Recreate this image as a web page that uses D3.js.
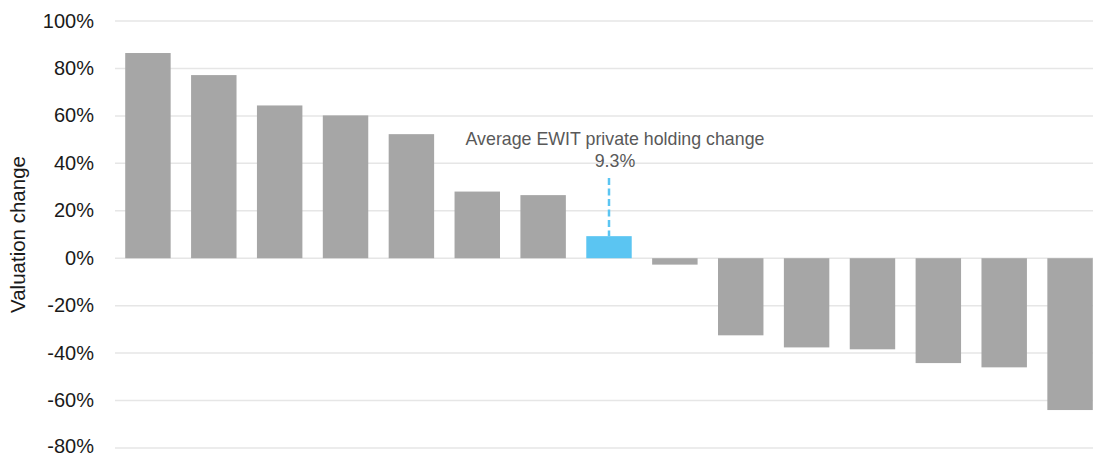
<!DOCTYPE html>
<html>
<head>
<meta charset="utf-8">
<script src="https://cdn.jsdelivr.net/npm/d3@7"></script>
<style>
  body { margin: 0; background: #fff; }
  svg { display: block; font-family: "Liberation Sans", Arial, sans-serif; }
</style>
</head>
<body>
<div id="chart"></div>
<script>
// data
var holdings = ["H1","H2","H3","H4","H5","H6","H7","EWIT","H9","H10","H11","H12","H13","H14","H15"];
var changes = [86.5, 77.2, 64.4, 60.2, 52.3, 28.1, 26.6, 9.3, -2.7, -32.5, -37.6, -38.4, -44.2, -46.0, -64.0];
var yTicks = [-80, -60, -40, -20, 0, 20, 40, 60, 80, 100];
var avgLabel = ["Average EWIT private holding change", "9.3%"];
var avgIndex = 7;

var width = 1093, height = 456;
var svg = d3.select("#chart").append("svg")
    .attr("width", width)
    .attr("height", height);

var x = d3.scaleBand()
    .domain(holdings)
    .range([115, 1103])
    .paddingInner(0.31)
    .paddingOuter(0.155);

var y = d3.scaleLinear()
    .domain([-80, 100])
    .range([448, 21]);

// gridlines
svg.append("g")
  .selectAll("line")
  .data(yTicks)
  .enter().append("line")
    .attr("x1", 115)
    .attr("x2", width)
    .attr("y1", function(d) { return y(d); })
    .attr("y2", function(d) { return y(d); })
    .attr("stroke", "#e6e6e6")
    .attr("stroke-width", 1.5);

// y axis labels
var yAxis = d3.axisLeft(y)
    .tickValues(yTicks)
    .tickSize(0)
    .tickPadding(0)
    .tickFormat(function(d) { return d + "%"; });

var ya = svg.append("g")
    .attr("transform", "translate(94,0)")
    .call(yAxis);
ya.select(".domain").remove();
ya.selectAll("text")
    .attr("font-size", 20)
    .attr("dy", function(d) { return d === -80 ? "0.2em" : "0.3em"; })
    .attr("font-family", "Liberation Sans, Arial, sans-serif")
    .attr("fill", "#1a1a1a");

svg.append("text")
    .attr("transform", "translate(25," + y(10) + ") rotate(-90)")
    .attr("text-anchor", "middle")
    .attr("font-size", 20.5)
    .attr("fill", "#1a1a1a")
    .text("Valuation change");

// bars
svg.append("g")
  .selectAll("rect")
  .data(changes)
  .enter().append("rect")
    .attr("x", function(d, i) { return x(holdings[i]); })
    .attr("width", x.bandwidth())
    .attr("y", function(d) { return y(Math.max(0, d)); })
    .attr("height", function(d) { return Math.abs(y(d) - y(0)); })
    .attr("fill", function(d, i) { return i === avgIndex ? "#5bc5f2" : "#a6a6a6"; });

// average marker
var cx = x(holdings[avgIndex]) + x.bandwidth() / 2;
svg.append("line")
    .attr("x1", cx)
    .attr("x2", cx)
    .attr("y1", 178)
    .attr("y2", y(changes[avgIndex]))
    .attr("stroke", "#5bc5f2")
    .attr("stroke-width", 2.5)
    .attr("stroke-dasharray", "7,3.5");

svg.append("g")
  .selectAll("text")
  .data(avgLabel)
  .enter().append("text")
    .attr("x", cx + 6)
    .attr("y", function(d, i) { return 145 + i * 22; })
    .attr("text-anchor", "middle")
    .attr("font-size", 17.8)
    .attr("fill", "#595959")
    .text(function(d) { return d; });
</script>
</body>
</html>
